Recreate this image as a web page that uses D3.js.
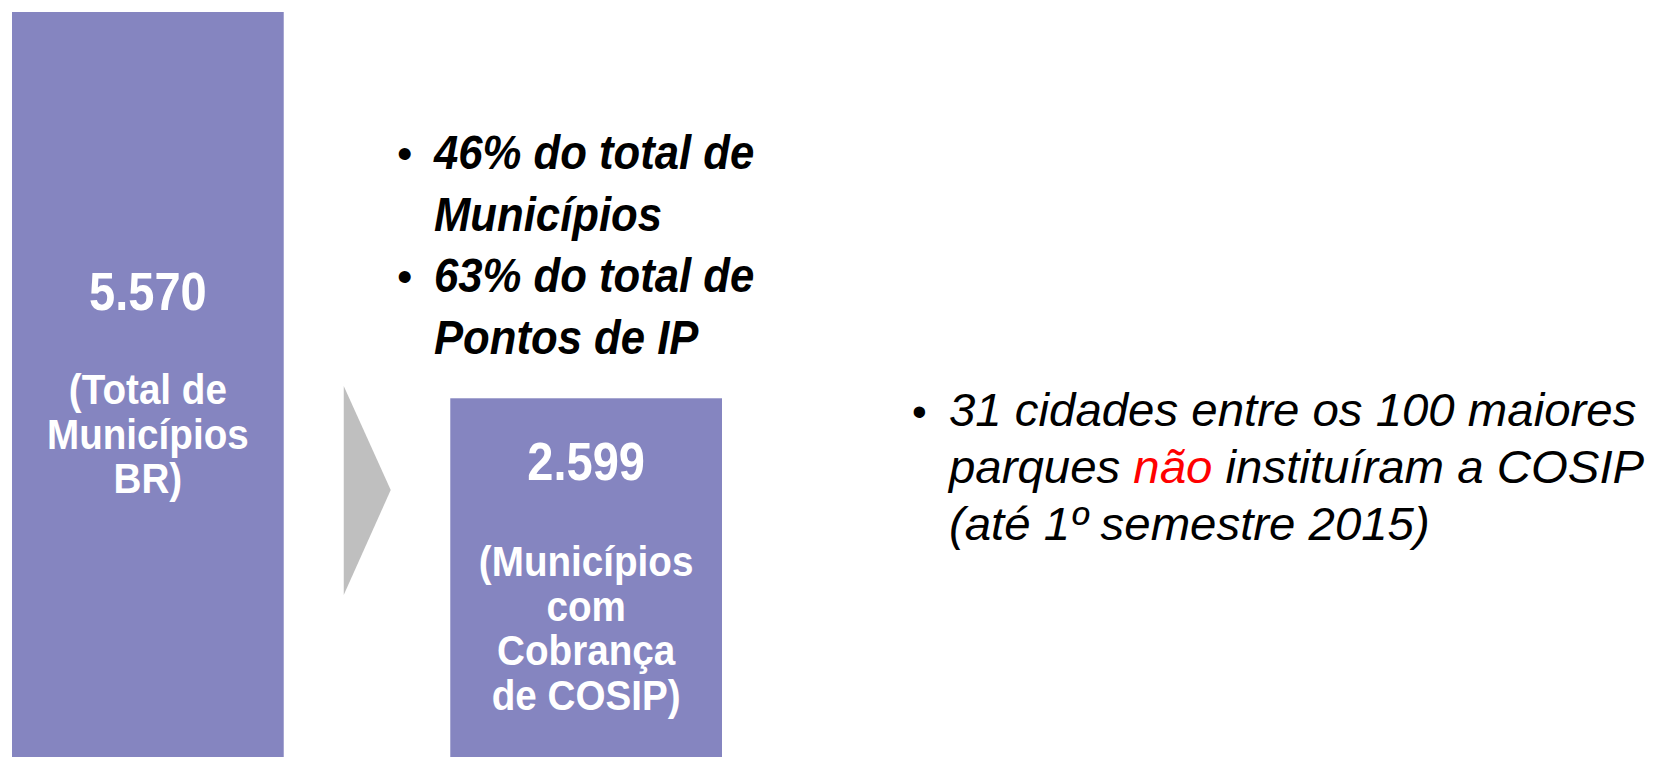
<!DOCTYPE html>
<html>
<head>
<meta charset="utf-8">
<script src="https://cdn.jsdelivr.net/npm/d3@7"></script>
<style>
  html, body { margin: 0; padding: 0; background: #fff; }
  svg { display: block; font-family: "Liberation Sans", Arial, sans-serif; }
</style>
</head>
<body>
<svg id="chart" width="1659" height="757"></svg>
<script>
// data
var categories = ["Total de Municípios BR", "Municípios com Cobrança de COSIP"]
var values = [5570, 2599]
var barLabels = [
    ["(Total de", "Municípios", "BR)"],
    ["(Municípios", "com", "Cobrança", "de COSIP)"]
]
var midBullets = [
    ["46% do total de", "Municípios"],
    ["63% do total de", "Pontos de IP"]
]
// each line is a list of [text, isRed]
var noteLines = [
    [["31 cidades entre os 100 maiores", false]],
    [["parques ", false], ["não", true], [" instituíram a COSIP", false]],
    [["(até 1º semestre 2015)", false]]
]

var W = 1659, H = 757
var purple = "#8585c0"
var svg = d3.select("#chart")

var ptBR = d3.formatLocale({decimal: ",", thousands: ".", grouping: [3], currency: ["R$", ""]})
var fmt = ptBR.format(",")

var xScale = d3.scaleBand().domain(categories).range([12, 722]).paddingInner(0.38).paddingOuter(0)
var yScale = d3.scaleLinear().domain([-160, 5570]).range([H, 12])

svg.selectAll("rect.bar")
    .data(categories)
    .enter()
    .append("rect")
    .attr("class", "bar")
    .attr("x", function(d){ return xScale(d) })
    .attr("y", function(d, i){ return yScale(values[i]) })
    .attr("width", xScale.bandwidth())
    .attr("height", function(d, i){ return H - yScale(values[i]) })
    .attr("fill", purple)

// grey chevron between the two bars
var arrowX0 = xScale(categories[0]) + xScale.bandwidth() + 60
svg.append("path")
    .attr("d", "M" + arrowX0 + ",386 L" + (arrowX0 + 47) + ",490 L" + arrowX0 + ",595 Z")
    .attr("fill", "#bfbfbf")

// text inside bars
var numY = [310, 480]
var labY = [404, 576]
var lineH = 44.5
categories.forEach(function(c, i){
    var cx = xScale(c) + xScale.bandwidth() / 2
    svg.append("text").text(fmt(values[i]))
        .attr("transform", "translate(" + cx + "," + numY[i] + ") scale(0.87,1)")
        .attr("text-anchor", "middle")
        .attr("font-size", 54).attr("font-weight", "bold")
        .attr("fill", "#fff")
    barLabels[i].forEach(function(t, j){
        svg.append("text").text(t)
            .attr("transform", "translate(" + cx + "," + (labY[i] + j * lineH) + ") scale(0.92,1)")
            .attr("text-anchor", "middle")
            .attr("font-size", 42).attr("font-weight", "bold")
            .attr("fill", "#fff")
    })
})

// bold italic bullets over the second bar
var midX = 434, midY0 = 169, midLH = 61.5
var row = 0
midBullets.forEach(function(b){
    svg.append("text").text("•")
        .attr("x", 397).attr("y", midY0 + row * midLH)
        .attr("font-size", 44)
        .attr("fill", "#000")
    b.forEach(function(t){
        svg.append("text").text(t)
            .attr("transform", "translate(" + midX + "," + (midY0 + row * midLH) + ") scale(0.91,1)")
            .attr("font-size", 48).attr("font-weight", "bold").attr("font-style", "italic")
            .attr("fill", "#000")
        row++
    })
})

// note on the right
var noteX = 949, noteY0 = 426, noteLH = 57
svg.append("text").text("•")
    .attr("x", 912).attr("y", noteY0)
    .attr("font-size", 42)
    .attr("fill", "#000")
noteLines.forEach(function(parts, i){
    var t = svg.append("text")
        .attr("transform", "translate(" + noteX + "," + (noteY0 + i * noteLH) + ") scale(1.03,1)")
        .attr("font-size", 46).attr("font-style", "italic")
    parts.forEach(function(p){
        t.append("tspan").text(p[0]).attr("fill", p[1] ? "#ff0000" : "#000")
    })
})
</script>
</body>
</html>
